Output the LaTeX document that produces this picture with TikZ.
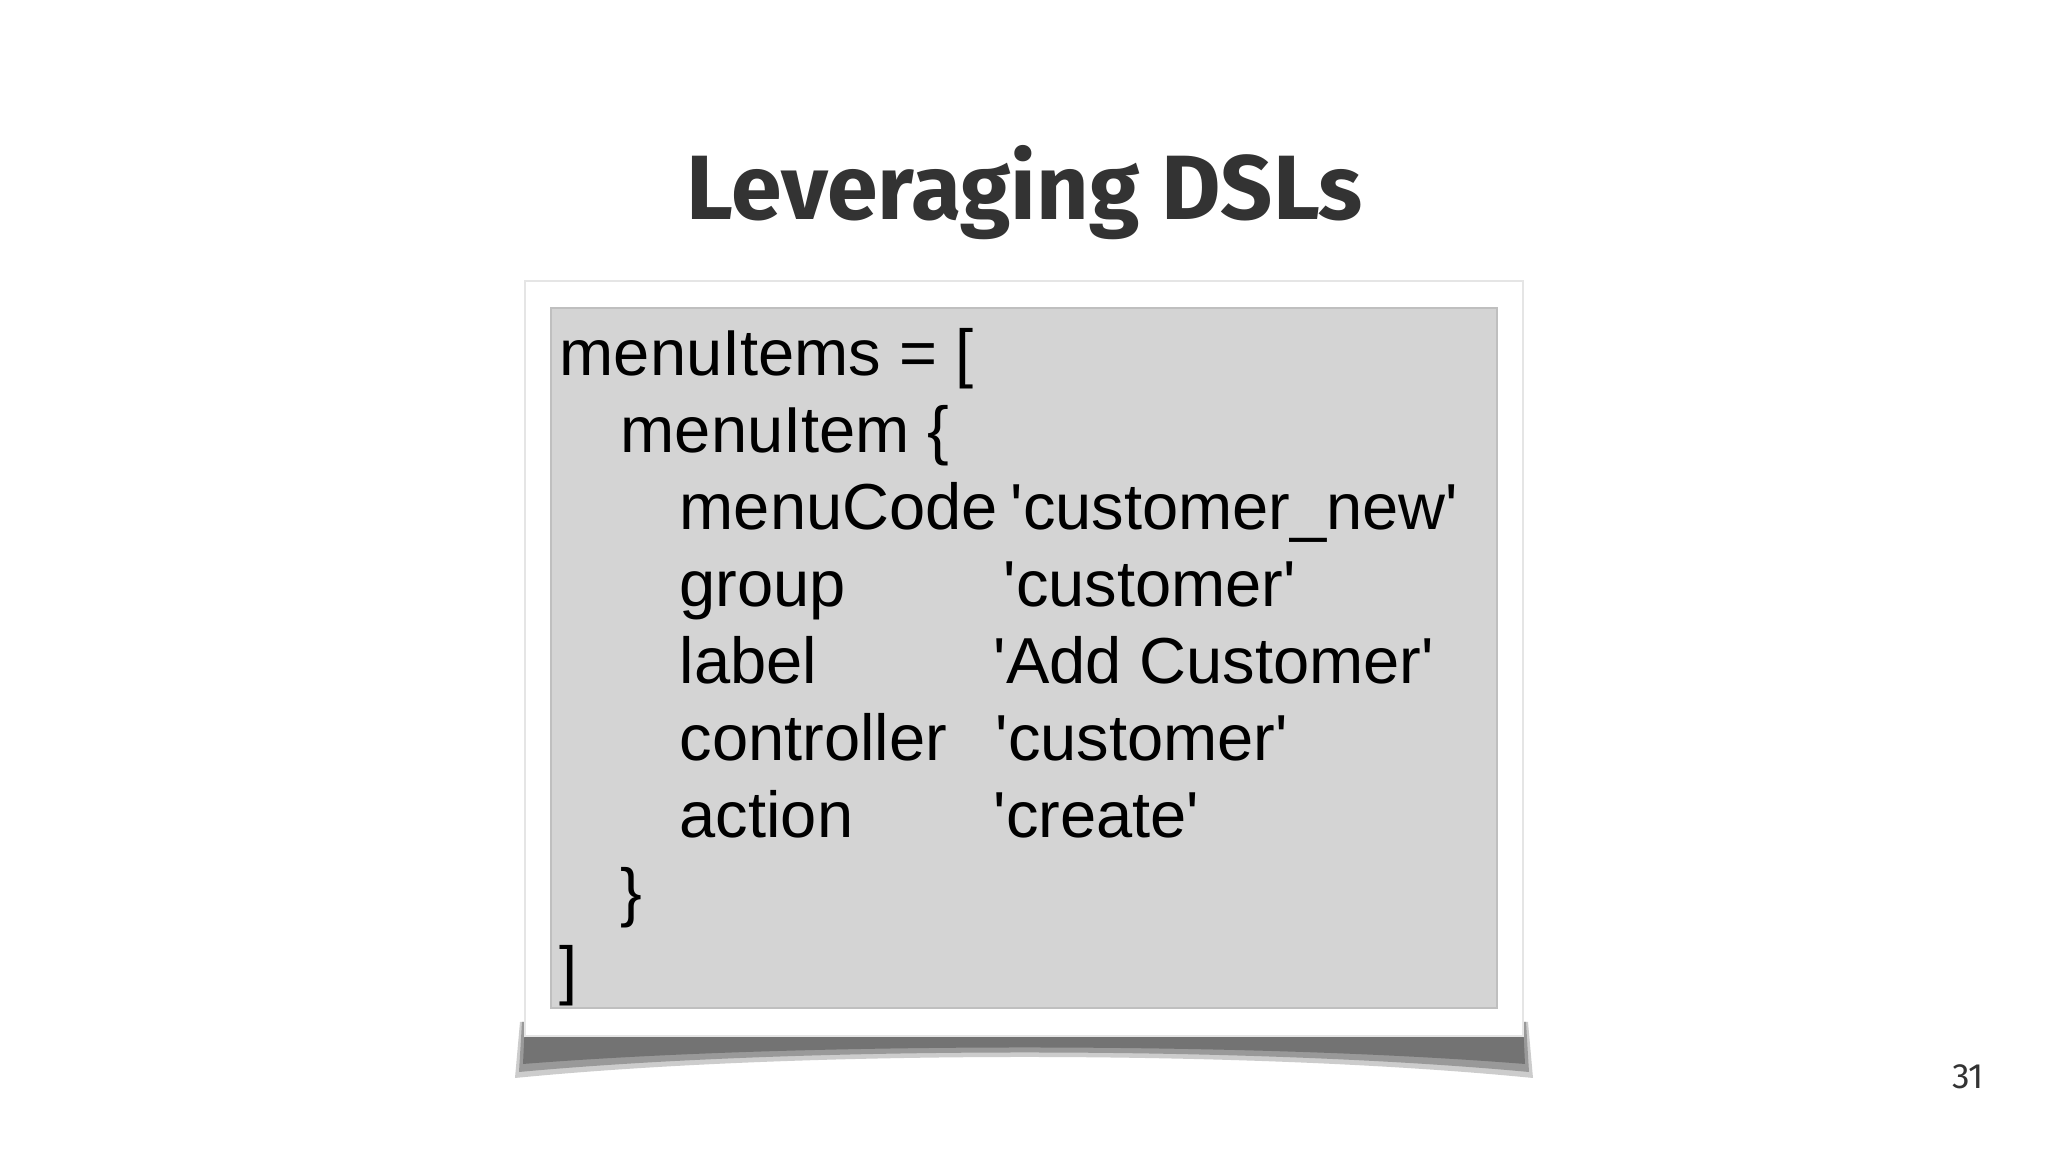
\documentclass[tikz,border=0pt]{standalone}
\usepackage{fontspec}
\setmainfont{Liberation Sans}
\newfontfamily\titlefont{Fira Sans}
\newcommand{\q}{\textquotesingle}
\begin{document}
\begin{tikzpicture}[x=1cm,y=1cm,
  code/.style={anchor=base west,inner sep=0pt,font=\fontsize{18.5}{20}\selectfont,text=black}]
\useasboundingbox (0,0) rectangle (20.48,11.52);
\fill[white] (0,0) rectangle (20.48,11.52);
% shadow
\fill[black!20] (5.2,1.3) -- (15.28,1.3) -- (15.33,0.74) .. controls (12.5,1.02) and (8,1.02) .. (5.15,0.74) -- cycle;
\fill[black!40] (5.22,1.3) -- (15.26,1.3) -- (15.29,0.80) .. controls (12.5,1.06) and (8,1.06) .. (5.19,0.80) -- cycle;
\fill[black!55] (5.25,1.3) -- (15.23,1.3) -- (15.25,0.88) .. controls (12.5,1.1) and (8,1.1) .. (5.23,0.88) -- cycle;
% frame
\node[draw=black!10,line width=0.6pt,fill=white,minimum width=9.98cm,minimum height=7.55cm,inner sep=0pt] (frame) at (10.24,4.935) {};
\node[draw=black!25,line width=0.5pt,fill=black!17,minimum width=9.46cm,minimum height=7.0cm,inner sep=0pt] (code) at (10.24,4.94) {};
\node[font=\titlefont\bfseries\fontsize{26}{30}\selectfont,text=black!80] (title) at (10.25,9.59) {Leveraging DSLs};
\node[code] (l1) at (5.59,7.76) {menuItems = [};
\node[code] (l2) at (6.20,6.99) {menuItem \{};
\node[code] (l3) at (6.79,6.22) {menuCode};
\node[code] (v3) at (10.10,6.22) {\q customer\_new\q};
\node[code] (l4) at (6.79,5.45) {group};
\node[code] (v4) at (10.03,5.45) {\q customer\q};
\node[code] (l5) at (6.79,4.68) {label};
\node[code] (v5) at (9.93,4.68) {\q Add Customer\q};
\node[code] (l6) at (6.79,3.91) {controller};
\node[code] (v6) at (9.95,3.91) {\q customer\q};
\node[code] (l7) at (6.79,3.14) {action};
\node[code] (v7) at (9.93,3.14) {\q create\q};
\node[code] (l8) at (6.20,2.37) {\}};
\node[code] (l9) at (5.59,1.59) {]};
\node[font=\titlefont\fontsize{10}{12}\selectfont,text=black!80] (pg) at (19.68,0.75) {31};
\end{tikzpicture}
\end{document}
